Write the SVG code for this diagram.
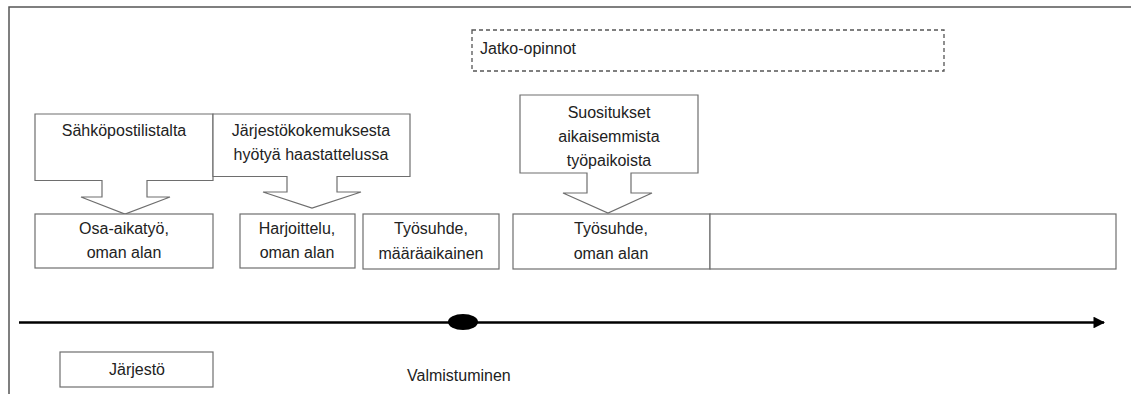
<svg xmlns="http://www.w3.org/2000/svg" width="1131" height="394" viewBox="0 0 1131 394">
<style>
  .box{fill:#fff;stroke:#6e6e6e;stroke-width:1.2}
  .frame{fill:none;stroke:#555;stroke-width:1.5}
  .dash{fill:#fff;stroke:#555;stroke-width:1.3;stroke-dasharray:4 3}
  text{font-family:"Liberation Sans",Arial,sans-serif;font-size:16px;fill:#222}
  .c{text-anchor:middle}
</style>
<defs>
  <marker id="arr" viewBox="0 0 10 10" refX="9" refY="5" markerWidth="4.5" markerHeight="4.5" orient="auto" markerUnits="strokeWidth">
    <path d="M0,0 L10,5 L0,10 z" fill="#000"/>
  </marker>
</defs>
<rect width="1131" height="394" fill="#fff"/>
<path class="frame" d="M9,394 V7 H1131"/>

<g id="jatko">
  <rect class="dash" x="472" y="30" width="472" height="41"/>
  <text x="480" y="54">Jatko-opinnot</text>
</g>

<g id="sahkoposti">
  <path class="box" d="M35,114 H213 V180.5 H147 V197 H170 L125,214 L81,197 H102 V180.5 H35 Z"/>
  <text class="c" x="124" y="136">Sähköpostilistalta</text>
</g>

<g id="jarjestokokemus">
  <path class="box" d="M213,114 H410 V176.5 H337 V192 H361 L312,208 L263,192 H287 V176.5 H213 Z"/>
  <text class="c" x="311" y="136">Järjestökokemuksesta</text>
  <text class="c" x="311" y="160">hyötyä haastattelussa</text>
</g>

<g id="suositukset">
  <path class="box" d="M520,95 H698 V173 H631 V193 H652 L608,213 L563,193 H587 V173 H520 Z"/>
  <text class="c" x="609" y="118">Suositukset</text>
  <text class="c" x="609" y="142">aikaisemmista</text>
  <text class="c" x="609" y="166">työpaikoista</text>
</g>

<g id="osa-aikatyo">
  <rect class="box" x="35" y="214" width="178" height="54"/>
  <text class="c" x="124" y="234">Osa-aikatyö,</text>
  <text class="c" x="124" y="258">oman alan</text>
</g>

<g id="harjoittelu">
  <rect class="box" x="240" y="214" width="115" height="54"/>
  <text class="c" x="297" y="234">Harjoittelu,</text>
  <text class="c" x="297" y="258">oman alan</text>
</g>

<g id="maaraaikainen">
  <rect class="box" x="363" y="214" width="136" height="55"/>
  <text class="c" x="431" y="234">Työsuhde,</text>
  <text class="c" x="431" y="259">määräaikainen</text>
</g>

<g id="tyosuhde-oman">
  <rect class="box" x="513" y="214" width="197" height="55"/>
  <text class="c" x="611" y="234">Työsuhde,</text>
  <text class="c" x="611" y="259">oman alan</text>
</g>

<g id="jatkuu">
  <rect class="box" x="710" y="214" width="406" height="55"/>
</g>

<g id="connectors">
  <line x1="19" y1="322.5" x2="1104" y2="322.5" stroke="#000" stroke-width="2.6" marker-end="url(#arr)"/>
</g>

<g id="valmistuminen">
  <ellipse cx="463" cy="322" rx="15" ry="8" fill="#000"/>
  <text x="407" y="381">Valmistuminen</text>
</g>

<g id="jarjesto">
  <rect class="box" x="60" y="352" width="153" height="35"/>
  <text class="c" x="137" y="375">Järjestö</text>
</g>
</svg>
